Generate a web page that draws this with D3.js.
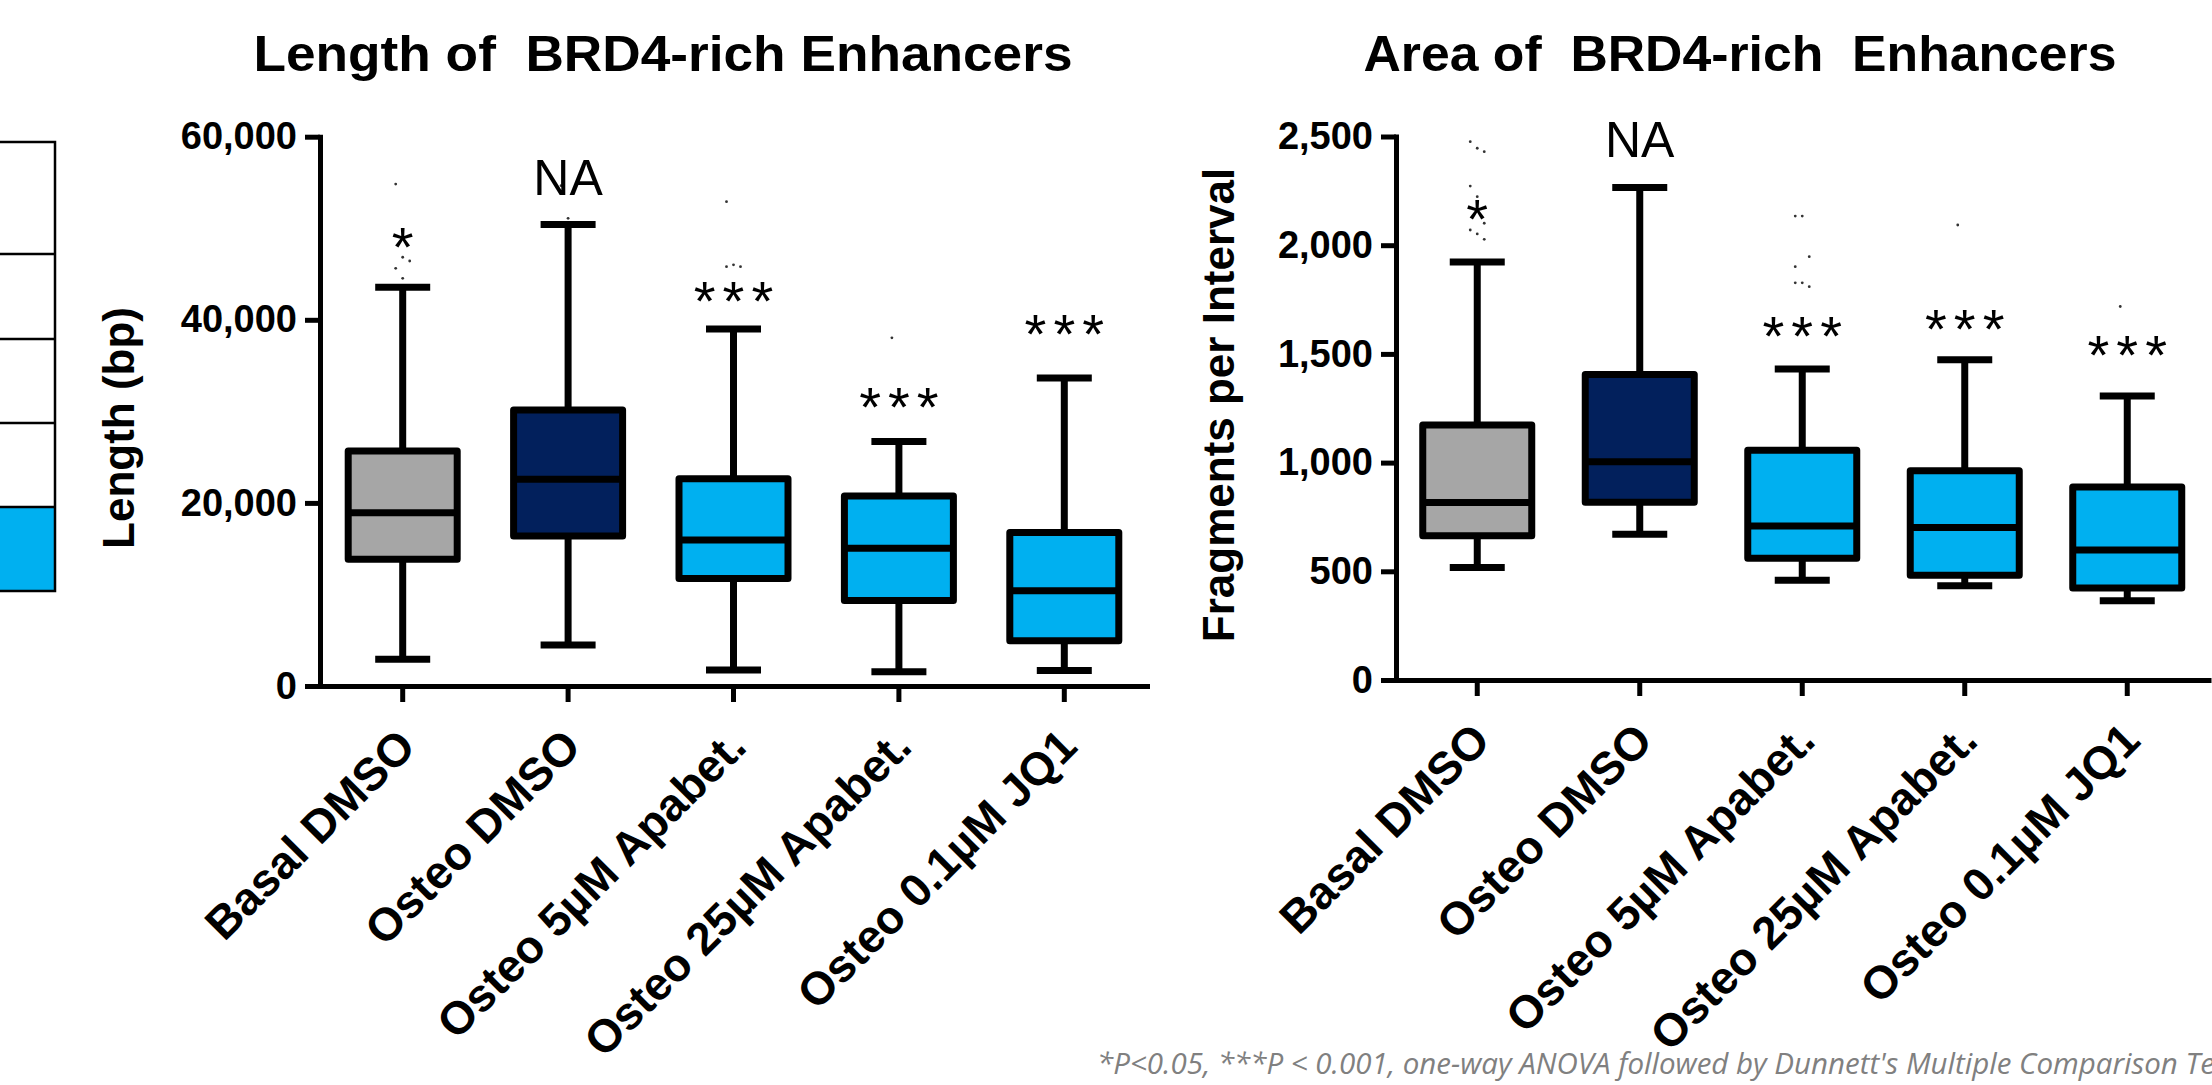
<!DOCTYPE html>
<meta charset="utf-8">
<style>
body{
    margin: 0;
    background: #fff;
}
svg{
    display: block;
    font-family: "Liberation Sans", Arial, sans-serif;
}
</style>
<body>
<script src="https://d3js.org/d3.v7.min.js"></script>
<script>
// groups on the x axis (same for both panels)
const groups = ["Basal DMSO", "Osteo DMSO", "Osteo 5\u00B5M Apabet.", "Osteo 25\u00B5M Apabet.", "Osteo 0.1\u00B5M JQ1"];

// left panel: length (bp)
const lengthLow    = [2920, 4480, 1750, 1550, 1700];
const lengthQ1     = [13840, 16380, 11750, 9350, 4950];
const lengthMedian = [18930, 22580, 15950, 15050, 10400];
const lengthQ3     = [25670, 30150, 22650, 20750, 16780];
const lengthHigh   = [43550, 50400, 39000, 26700, 33650];
const lengthOutliers = [[54830, 46830, 46420, 45620, 44530], [54650, 51080], [52900, 46000, 45800, 45800], [38030], []];
const lengthSig    = ["*", "NA", "***", "***", "***"];
const lengthSigAt  = [45880, 53630, 40030, 28400, 36420];
const lengthTicks  = [0, 20000, 40000, 60000];

// right panel: fragments per interval
const areaLow    = [518, 670, 459, 433, 364];
const areaQ1     = [664, 818, 560, 482, 423];
const areaMedian = [817, 1004, 708, 702, 598];
const areaQ3     = [1173, 1405, 1057, 962, 888];
const areaHigh   = [1923, 2265, 1431, 1473, 1306];
const areaOutliers = [[2476, 2446, 2430, 2272, 2223, 2101, 2070, 2052, 2027], [], [2134, 2134, 1947, 1901, 1827, 1809, 1827], [2093], [1718]];
const areaSig    = ["*", "NA", "***", "***", "***"];
const areaSigAt  = [2031, 2406, 1493, 1525, 1408];
const areaTicks  = [0, 500, 1000, 1500, 2000, 2500];

const footnote = "*P<0.05, ***P < 0.001, one-way ANOVA followed by Dunnett's Multiple Comparison Test";

const width = 2212, height = 1085;
const svg = d3.select("body").append("svg")
    .attr("width", width)
    .attr("height", height);

const fill = d3.scaleOrdinal()
    .domain(groups)
    .range(["#a6a6a6", "#02205c", "#00b0f0", "#00b0f0", "#00b0f0"]);

function drawPanel(p) {
    const y = d3.scaleLinear().domain([0, p.max]).range([p.bottom, p.top]);
    const x = d3.scaleBand().domain(groups).range([p.left, p.right]).padding(0);
    const g = svg.append("g");

    const stats = groups.map((name, i) => ({
        name: name,
        low: p.low[i], q1: p.q1[i], med: p.med[i], q3: p.q3[i], high: p.high[i],
        out: p.out[i], sig: p.sig[i], sigAt: p.sigAt[i]
    }));

    // title
    g.append("text")
        .attr("x", p.titleX)
        .attr("y", 71)
        .attr("text-anchor", "middle")
        .attr("font-size", 50)
        .attr("font-weight", "bold")
        .attr("textLength", p.titleLen)
        .attr("lengthAdjust", "spacingAndGlyphs")
        .style("white-space", "pre")
        .text(p.title);

    // y axis title
    g.append("text")
        .attr("transform", `translate(${p.yTitleX},${p.yTitleY}) rotate(-90)`)
        .attr("text-anchor", "middle")
        .attr("font-size", 44)
        .attr("font-weight", "bold")
        .text(p.yTitle);

    // boxes
    const bw = 109, cw = 55;
    const box = g.selectAll(".box")
        .data(stats)
        .join("g")
        .attr("class", "box")
        .attr("transform", d => `translate(${x(d.name) + x.bandwidth() / 2},0)`);

    box.append("line")
        .attr("y1", d => y(d.high)).attr("y2", d => y(d.q3))
        .attr("stroke", "#000").attr("stroke-width", 7);
    box.append("line")
        .attr("y1", d => y(d.q1)).attr("y2", d => y(d.low))
        .attr("stroke", "#000").attr("stroke-width", 7);
    box.append("line")
        .attr("x1", -cw / 2).attr("x2", cw / 2)
        .attr("y1", d => y(d.high)).attr("y2", d => y(d.high))
        .attr("stroke", "#000").attr("stroke-width", 7);
    box.append("line")
        .attr("x1", -cw / 2).attr("x2", cw / 2)
        .attr("y1", d => y(d.low)).attr("y2", d => y(d.low))
        .attr("stroke", "#000").attr("stroke-width", 7);
    box.append("rect")
        .attr("x", -bw / 2)
        .attr("width", bw)
        .attr("y", d => y(d.q3))
        .attr("height", d => y(d.q1) - y(d.q3))
        .attr("fill", d => fill(d.name))
        .attr("stroke", "#000")
        .attr("stroke-width", 7)
        .attr("stroke-linejoin", "round");
    box.append("line")
        .attr("x1", -bw / 2).attr("x2", bw / 2)
        .attr("y1", d => y(d.med)).attr("y2", d => y(d.med))
        .attr("stroke", "#000").attr("stroke-width", 7);

    // outliers
    box.selectAll(".out")
        .data(d => d.out)
        .join("circle")
        .attr("class", "out")
        .attr("cx", (v, i) => (i % 3 - 1) * 7)
        .attr("cy", v => y(v))
        .attr("r", 1.4)
        .attr("fill", "#333");

    // significance marks
    box.append("text")
        .attr("y", d => y(d.sigAt))
        .attr("text-anchor", "middle")
        .attr("font-size", d => d.sig === "NA" ? 50 : 56)
        .attr("letter-spacing", d => d.sig === "NA" ? 0 : 7)
        .attr("dx", d => d.sig === "NA" ? 0 : 3.5)
        .text(d => d.sig);

    // axes
    const yAxis = g.append("g")
        .attr("transform", `translate(${p.left},0)`)
        .call(d3.axisLeft(y).tickValues(p.ticks).tickFormat(d3.format(",")).tickSize(15).tickSizeOuter(0).tickPadding(8));
    yAxis.attr("font-family", null);
    yAxis.select(".domain").attr("stroke-width", 5).attr("stroke-linecap", "square");
    yAxis.selectAll(".tick line").attr("stroke-width", 5);
    yAxis.selectAll(".tick text")
        .attr("font-size", 38)
        .attr("font-weight", "bold")
        .attr("fill", "#000");

    const xAxis = g.append("g")
        .attr("transform", `translate(0,${p.bottom})`)
        .call(d3.axisBottom(x).tickSize(16).tickSizeOuter(0));
    xAxis.attr("font-family", null);
    xAxis.select(".domain").attr("stroke-width", 5).attr("stroke-linecap", "square");
    xAxis.selectAll(".tick line").attr("stroke-width", 5);
    xAxis.selectAll(".tick text")
        .attr("x", 0).attr("y", 0).attr("dy", null)
        .attr("text-anchor", "end")
        .attr("font-size", 46)
        .attr("font-weight", "bold")
        .attr("fill", "#000")
        .attr("transform", "translate(15,63) rotate(-45)");
}

drawPanel({
    title: "Length of  BRD4-rich Enhancers", titleX: 663, titleLen: 819,
    yTitle: "Length (bp)", yTitleX: 134, yTitleY: 428,
    left: 320, right: 1147, top: 136.7, bottom: 686, max: 60000, ticks: lengthTicks,
    low: lengthLow, q1: lengthQ1, med: lengthMedian, q3: lengthQ3, high: lengthHigh,
    out: lengthOutliers, sig: lengthSig, sigAt: lengthSigAt
});

drawPanel({
    title: "Area of  BRD4-rich  Enhancers", titleX: 1740, titleLen: 753,
    yTitle: "Fragments per Interval", yTitleX: 1234, yTitleY: 405,
    left: 1396, right: 2208.5, top: 136.5, bottom: 680, max: 2500, ticks: areaTicks,
    low: areaLow, q1: areaQ1, med: areaMedian, q3: areaQ3, high: areaHigh,
    out: areaOutliers, sig: areaSig, sigAt: areaSigAt
});

// cut-off legend on the far left
const legendRows = [142, 254, 339, 423, 507, 591];
const legend = svg.append("g");
legend.append("rect")
    .attr("x", -10).attr("y", legendRows[4])
    .attr("width", 65).attr("height", legendRows[5] - legendRows[4])
    .attr("fill", "#00b0f0");
legend.append("rect")
    .attr("x", -10).attr("y", legendRows[0])
    .attr("width", 65).attr("height", legendRows[5] - legendRows[0])
    .attr("fill", "none").attr("stroke", "#000").attr("stroke-width", 2.5);
legend.selectAll(".row")
    .data(legendRows.slice(1, 5))
    .join("line")
    .attr("x1", -10).attr("x2", 55)
    .attr("y1", d => d).attr("y2", d => d)
    .attr("stroke", "#000").attr("stroke-width", 2.5);

// footnote (runs off the right edge, as in the original)
svg.append("text")
    .attr("x", 1097)
    .attr("y", 1074)
    .attr("font-family", "'Open Sans', sans-serif")
    .attr("font-style", "italic")
    .attr("font-size", 29.5)
    .attr("fill", "#808080")
    .text(footnote);
</script>
</body>
</html>
